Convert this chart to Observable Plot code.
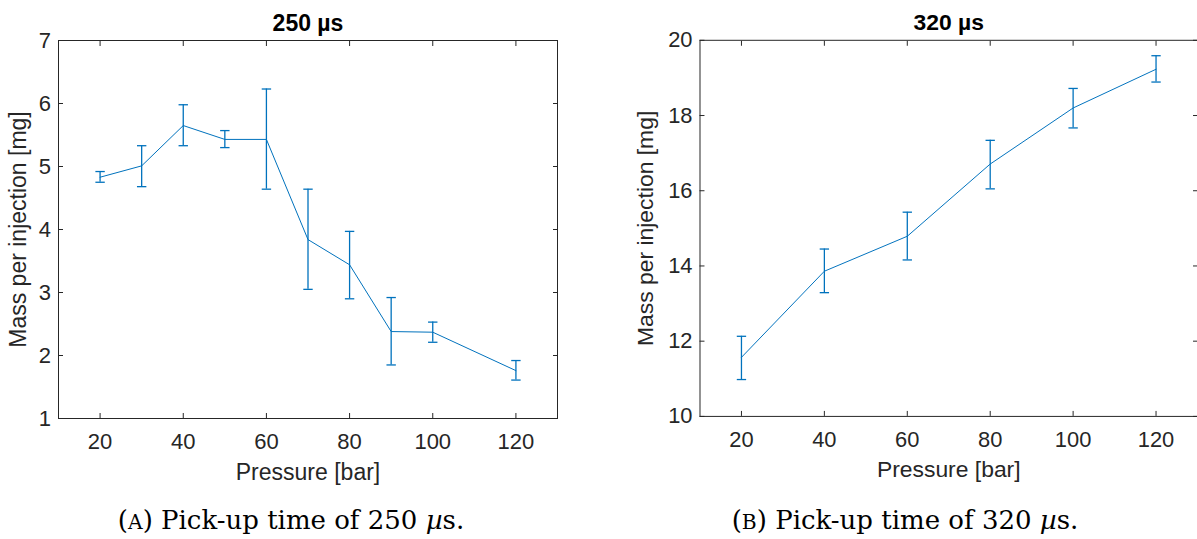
<!DOCTYPE html>
<html>
<head>
<meta charset="utf-8">
<script src="https://cdn.jsdelivr.net/npm/d3@7"></script>
<script src="https://cdn.jsdelivr.net/npm/@observablehq/plot@0.6"></script>
<style>
  html, body { margin: 0; padding: 0; background: #fff; }
  body { width: 1197px; height: 539px; overflow: hidden; position: relative; }
  .panel { position: absolute; top: 0; }
  .caption { position: absolute; top: 505px; font-family: "DejaVu Serif", "Liberation Serif", serif; font-size: 26px; line-height: 30px; text-align: center; color: #000; white-space: nowrap; }
  .sc { font-size: 0.78em; }
</style>
</head>
<body>
<div id="a" class="panel" style="left:0px;"></div>
<div id="b" class="panel" style="left:600px;"></div>
<div class="caption" style="left:0px;width:582px;">(<span class="sc">A</span>) Pick-up time of 250 <i>µ</i>s.</div>
<div class="caption" style="left:610px;width:590px;">(<span class="sc">B</span>) Pick-up time of 320 <i>µ</i>s.</div>
<script>
// ---- data ----
const xTicks = [20, 40, 60, 80, 100, 120];

const title250 = "250 µs";
const pressure250 = [20, 30, 40, 50, 60, 70, 80, 90, 100, 120];
const mass250 = [4.83, 5.01, 5.65, 5.43, 5.43, 3.84, 3.44, 2.38, 2.37, 1.76];
const low250  = [4.75, 4.68, 5.33, 5.30, 4.64, 3.05, 2.90, 1.85, 2.21, 1.61];
const high250 = [4.92, 5.33, 5.98, 5.57, 6.23, 4.64, 3.97, 2.92, 2.53, 1.92];
const yTicks250 = [1, 2, 3, 4, 5, 6, 7];

const title320 = "320 µs";
const pressure320 = [20, 40, 60, 80, 100, 120];
const mass320 = [11.57, 13.86, 14.79, 16.71, 18.20, 19.23];
const low320  = [10.98, 13.29, 14.16, 16.05, 17.67, 18.89];
const high320 = [12.13, 14.45, 15.43, 17.34, 18.72, 19.59];
const yTicks320 = [10, 12, 14, 16, 18, 20];

const xLabel = "Pressure [bar]";
const yLabel = "Mass per injection [mg]";

// ---- drawing ----
const blue = "#0072BD";
const ink = "#262626";
const cap = { draw(ctx) { ctx.moveTo(-4.7, 0); ctx.lineTo(4.7, 0); } };
const fmt = d => String(d);

function panel(p, m, lo, hi, yTicks, title, marginLeft, marginRight, yLabelDx) {
  const rows = p.map((x, i) => ({p: x, m: m[i], lo: lo[i], hi: hi[i]}));
  return Plot.plot({
    width: 600,
    height: 500,
    marginLeft,
    marginRight,
    marginTop: 40,
    marginBottom: 82,
    x: {domain: [10, 130]},
    y: {domain: [yTicks[0], yTicks[yTicks.length - 1]]},
    style: {fontFamily: "'Liberation Sans', Arial, Helvetica, sans-serif", background: "white", overflow: "visible"},
    marks: [
      Plot.axisX({anchor: "bottom", ticks: xTicks, tickFormat: fmt, tickSize: -5, tickPadding: 20, fontSize: 22, color: ink, label: null}),
      Plot.axisX({anchor: "top", ticks: xTicks, tickSize: -5, fill: "none", stroke: ink, label: null}),
      Plot.axisY({anchor: "left", ticks: yTicks, tickFormat: fmt, tickSize: -5, tickPadding: 12.5, fontSize: 22, color: ink, label: null}),
      Plot.axisY({anchor: "right", ticks: yTicks, tickSize: -5, fill: "none", stroke: ink, label: null}),
      Plot.frame({stroke: ink}),
      Plot.ruleX(rows, {x: "p", y1: "lo", y2: "hi", stroke: blue, strokeWidth: 1.3}),
      Plot.dot(rows, {x: "p", y: "lo", symbol: cap, stroke: blue, fill: "none", strokeWidth: 1.3}),
      Plot.dot(rows, {x: "p", y: "hi", symbol: cap, stroke: blue, fill: "none", strokeWidth: 1.3}),
      Plot.line(rows, {x: "p", y: "m", stroke: blue, strokeWidth: 1}),
      Plot.text([title], {text: d => d, frameAnchor: "top", dy: -10, lineAnchor: "bottom", fontSize: 23, fontWeight: "bold", fill: "#000"}),
      Plot.text([xLabel], {text: d => d, frameAnchor: "bottom", dy: 45, lineAnchor: "top", fontSize: 23, fill: ink}),
      Plot.text([yLabel], {text: d => d, frameAnchor: "left", textAnchor: "middle", dx: yLabelDx, rotate: -90, lineAnchor: "middle", fontSize: 23, fill: ink})
    ]
  });
}

document.getElementById("a").append(panel(pressure250, mass250, low250, high250, yTicks250, title250, 58, 43, -39.5));
document.getElementById("b").append(panel(pressure320, mass320, low320, high320, yTicks320, title320, 100, 0, -54.5));
</script>
</body>
</html>
